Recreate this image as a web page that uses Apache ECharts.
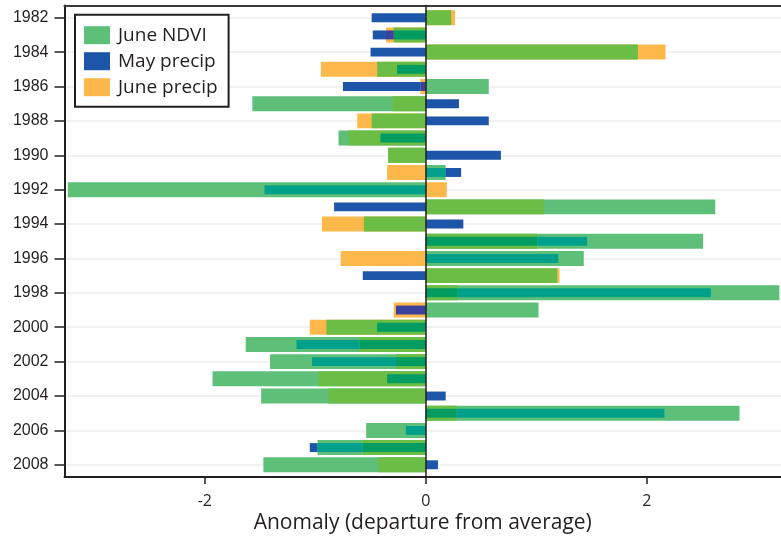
<!DOCTYPE html>
<html><head><meta charset="utf-8">
<script src="https://cdn.jsdelivr.net/npm/echarts@6/dist/echarts.min.js"></script>
<style>html,body{margin:0;padding:0;background:#fff}#c{width:781px;height:541px}</style>
</head><body><div id="c"></div>
<script>
const years = [1982,1983,1984,1985,1986,1987,1988,1989,1990,1991,1992,1993,1994,1995,1996,1997,1998,1999,2000,2001,2002,2003,2004,2005,2006,2007,2008];
const yearTicks = [1982,1984,1986,1988,1990,1992,1994,1996,1998,2000,2002,2004,2006,2008];
const xTicks = [-2, 0, 2];
const juneNdvi   = [0.23,-0.29,1.92,-0.44,0.57,-1.57,-0.49,-0.79,-0.34,0.18,-3.24,2.62,-0.56,2.51,1.43,1.19,3.20,1.02,-0.90,-1.63,-1.41,-1.93,-1.49,2.84,-0.54,-0.98,-1.47];
const mayPrecip  = [-0.49,-0.48,-0.50,-0.26,-0.75,0.30,0.57,-0.41,0.68,0.32,-1.46,-0.83,0.34,1.46,1.20,-0.57,2.58,-0.27,-0.44,-1.17,-1.03,-0.35,0.18,2.16,-0.18,-1.05,0.11];
const junePrecip = [0.265,-0.36,2.17,-0.95,-0.05,-0.30,-0.62,-0.70,-0.34,-0.35,0.19,1.07,-0.94,1.01,-0.77,1.21,0.29,-0.29,-1.05,-0.60,-0.27,-0.97,-0.88,0.28,0,-0.57,-0.43];
const seriesNames = ['June NDVI','May precip','June precip'];

const vals = { N: juneNdvi, B: mayPrecip, O: junePrecip };
const thick = ['N','O'];
const mix = { N:'#5ebf78', O:'#fcb84b', B:'#1d55a8', NO:'#6bbd45', NB:'#00a08a', BO:'#3b429d', NBO:'#009c62' };
function key(set){ return ['N','B','O'].filter(k => set.indexOf(k) >= 0).join(''); }

function makeRender(code){
  return function(params, api){
    const i = params.dataIndex;
    const v = api.value(0), yr = api.value(1);
    if (!v) return null;
    const band = api.size([0,1])[1];
    const sgn = Math.sign(v);
    const same = t => Math.sign(vals[t][i]) === sgn;
    if (code !== 'B') {
      const set = [code];
      thick.forEach(t => { if (t !== code && same(t) && Math.abs(vals[t][i]) >= Math.abs(v)) set.push(t); });
      const h = band * 0.87;
      const a = api.coord([0, yr]), b = api.coord([v, yr]);
      return { type:'rect', shape:{ x:Math.min(a[0],b[0]), y:a[1]-h/2, width:Math.abs(b[0]-a[0]), height:h },
               style:{ fill: mix[key(set)] }, z2: 1000 - Math.round(Math.abs(v)*100) };
    }
    const h = band * 0.52;
    const stops = [0, Math.abs(v)];
    thick.forEach(t => { const m = Math.abs(vals[t][i]); if (same(t) && m > 0 && m < Math.abs(v)) stops.push(m); });
    stops.sort((p,q) => p-q);
    const children = [];
    for (let k = 0; k < stops.length-1; k++) {
      const lo = stops[k], hi = stops[k+1];
      if (hi <= lo) continue;
      const set = ['B'];
      thick.forEach(t => { if (same(t) && Math.abs(vals[t][i]) >= hi) set.push(t); });
      const a = api.coord([sgn*lo, yr]), b = api.coord([sgn*hi, yr]);
      children.push({ type:'rect', shape:{ x:Math.min(a[0],b[0]), y:a[1]-h/2, width:Math.abs(b[0]-a[0]), height:h },
                      style:{ fill: mix[key(set)] }, z2: 2000 });
    }
    return { type:'group', children };
  };
}

const codes = ['N','B','O'];
const ink = '#231f20';
const yMin = 1981.29, yMax = 2008.71, xMin = -3.27, xMax = 3.215;

const chart = echarts.init(document.getElementById('c'), null, {renderer:'canvas'});
chart.setOption({
  animation:false,
  backgroundColor:'#fff',
  grid:{ left:64.5, right:0, top:5.5, bottom:64 },
  legend:{ orient:'vertical', left:75, top:14.7, padding:[11,11,10,9], itemWidth:26, itemHeight:18, itemGap:7,
    icon:'rect', borderColor:ink, borderWidth:2, backgroundColor:'#fff',
    textStyle:{ fontFamily:'Open Sans', fontSize:19, color:ink, padding:[0,0,0,3] },
    data: seriesNames.map((n,k) => ({ name:n, itemStyle:{ color: mix[codes[k]] } })) },
  xAxis:[{
    type:'value', min:xMin, max:xMax, position:'bottom',
    axisLine:{ show:true, onZero:false, lineStyle:{ color:ink, width:2 } },
    axisTick:{ show:true, customValues:xTicks, length:7, lineStyle:{ color:ink, width:1.5 } },
    axisLabel:{ show:false },
    splitLine:{ show:false },
    name:'Anomaly (departure from average)', nameLocation:'middle', nameGap:36,
    nameTextStyle:{ fontFamily:'Open Sans', fontSize:21, color:ink }
  },{
    type:'value', min:xMin, max:xMax, position:'top',
    axisLine:{ show:true, onZero:false, lineStyle:{ color:'#3a3a3a', width:2 } },
    axisTick:{ show:false }, axisLabel:{ show:false }, splitLine:{ show:false }
  },{
    type:'value', min:xMin, max:xMax, position:'bottom', gridIndex:0,
    axisLine:{ show:false, onZero:false }, axisTick:{ show:false }, splitLine:{ show:false },
    axisLabel:{ show:true, customValues:xTicks, formatter: v => String(v),
      fontFamily:'Open Sans', fontSize:16, color:ink, margin:16 }
  }],
  yAxis:[{
    type:'value', inverse:true, min:yMin, max:yMax, position:'left',
    axisLine:{ show:true, onZero:false, lineStyle:{ color:ink, width:2 } },
    axisTick:{ show:true, customValues:yearTicks, length:10, lineStyle:{ color:ink, width:1.5 } },
    axisLabel:{ customValues:yearTicks, formatter: v => String(v), fontFamily:'Liberation Sans', fontSize:16, color:ink, margin:16 },
    splitLine:{ show:true, lineStyle:{ color:'#ececec', width:1.5 } }
  },{
    type:'value', inverse:true, min:yMin, max:yMax, z:10,
    axisLine:{ show:true, onZero:true, lineStyle:{ color:ink, width:1.5 } },
    axisTick:{ show:false }, axisLabel:{ show:false }, splitLine:{ show:false }
  }],
  series: codes.map((c,k) => ({
    type:'custom', name:seriesNames[k], xAxisIndex:0, yAxisIndex:0,
    itemStyle:{ color: mix[c] },
    encode:{ x:0, y:1 },
    data: years.map((y,i) => [vals[c][i], y]),
    renderItem: makeRender(c)
  }))
});
</script></body></html>
